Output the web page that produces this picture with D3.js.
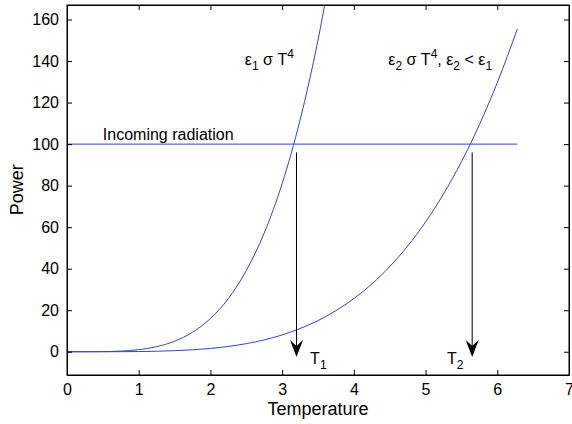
<!DOCTYPE html>
<html>
<head>
<meta charset="utf-8">
<script src="https://cdn.jsdelivr.net/npm/d3@7"></script>
<style>
  body { margin: 0; background: #fff; }
  text { font-family: "Liberation Sans", Arial, sans-serif; fill: #000; }
</style>
</head>
<body>
<div id="chart"></div>
<script>
var width = 572;
var height = 424;
var margin = {top: 5, right: 3, bottom: 49, left: 67};

// temperature samples and power
var temps1 = [0, 0.25, 0.5, 0.75, 1, 1.25, 1.5, 1.75, 2, 2.25, 2.5, 2.75, 3, 3.25, 3.5, 3.75];
var power1 = [0, 0.004, 0.06, 0.32, 1, 2.44, 5.06, 9.38, 16, 25.6, 39.1, 57.2, 81, 111.6, 150.1, 197.8];
var temps2 = [0, 0.25, 0.5, 0.75, 1, 1.25, 1.5, 1.75, 2, 2.25, 2.5, 2.75, 3, 3.25, 3.5, 3.75,
              4, 4.25, 4.5, 4.75, 5, 5.25, 5.5, 5.75, 6, 6.28];
var power2 = [0, 0.0004, 0.006, 0.03, 0.1, 0.24, 0.51, 0.94, 1.6, 2.56, 3.9, 5.72, 8.1, 11.2, 15.0, 19.8,
              25.6, 32.6, 41.0, 50.9, 62.5, 76.0, 91.5, 109.3, 129.6, 155.5];
var incomingT = [0, 6.28];
var incomingPower = 100;
var arrowT = [3.2, 5.65];
var arrowFrom = 96;
var arrowTo = -2.5;
var xTicks = [0, 1, 2, 3, 4, 5, 6, 7];
var yTicks = [0, 20, 40, 60, 80, 100, 120, 140, 160];

var svg = d3.select("#chart").append("svg")
    .attr("width", width)
    .attr("height", height);

var xScale = d3.scaleLinear()
    .domain([0, 7])
    .range([margin.left, width - margin.right]);
var yScale = d3.scaleLinear()
    .domain([-11.2, 167])
    .range([height - margin.bottom, margin.top]);

svg.append("clipPath").attr("id", "plot")
  .append("rect")
    .attr("x", margin.left).attr("y", margin.top)
    .attr("width", width - margin.left - margin.right)
    .attr("height", height - margin.top - margin.bottom);

var line = d3.line()
    .x(function (d) { return xScale(d[0]); })
    .y(function (d) { return yScale(d[1]); })
    .curve(d3.curveMonotoneX);

var curves = [d3.zip(temps1, power1), d3.zip(temps2, power2),
              incomingT.map(function (t) { return [t, incomingPower]; })];

svg.append("g").attr("clip-path", "url(#plot)")
  .selectAll("path")
  .data(curves).enter().append("path")
    .attr("d", line)
    .attr("fill", "none")
    .attr("stroke", "#3446bd")
    .attr("stroke-width", 1);

// axes, MATLAB style box with inward ticks
var xAxis = d3.axisBottom(xScale).tickValues(xTicks).tickFormat(d3.format("d"))
    .tickSizeInner(-5).tickSizeOuter(0).tickPadding(9);
var yAxis = d3.axisLeft(yScale).tickValues(yTicks).tickFormat(d3.format("d"))
    .tickSizeInner(-5).tickSizeOuter(0).tickPadding(8);
var xTop = d3.axisTop(xScale).tickValues(xTicks).tickSizeInner(-5).tickSizeOuter(0).tickFormat("");
var yRight = d3.axisRight(yScale).tickValues(yTicks).tickSizeInner(-5).tickSizeOuter(0).tickFormat("");

svg.append("g").attr("transform", "translate(0," + (height - margin.bottom) + ")").call(xAxis);
svg.append("g").attr("transform", "translate(" + margin.left + ",0)").call(yAxis);
svg.append("g").attr("transform", "translate(0," + margin.top + ")").call(xTop);
svg.append("g").attr("transform", "translate(" + (width - margin.right) + ",0)").call(yRight);

svg.selectAll(".domain").attr("stroke", "#000").attr("stroke-width", 1);
svg.selectAll(".tick line").attr("stroke", "#000");
svg.selectAll(".tick text").style("font-size", "16px").attr("fill", "#000");

svg.append("rect")
    .attr("x", margin.left).attr("y", margin.top)
    .attr("width", width - margin.left - margin.right)
    .attr("height", height - margin.top - margin.bottom)
    .attr("fill", "none").attr("stroke", "#000");

svg.append("text")
    .attr("x", xScale(3.5)).attr("y", 415)
    .attr("text-anchor", "middle")
    .style("font-size", "18px")
    .text("Temperature");
svg.append("text")
    .attr("transform", "translate(23," + yScale(78) + ") rotate(-90)")
    .attr("text-anchor", "middle")
    .style("font-size", "18px")
    .text("Power");

// arrows
var arrows = svg.append("g").selectAll("g")
    .data(arrowT).enter().append("g");
arrows.append("line")
    .attr("x1", function (d) { return xScale(d); })
    .attr("x2", function (d) { return xScale(d); })
    .attr("y1", yScale(arrowFrom))
    .attr("y2", yScale(arrowTo) - 8)
    .attr("stroke", "#000");
arrows.append("path")
    .attr("transform", function (d) { return "translate(" + xScale(d) + "," + yScale(arrowTo) + ")"; })
    .attr("d", "M0,0L-6.5,-17L0,-11L6.5,-17Z")
    .attr("fill", "#000");

// labels
function label(x, y, parts) {
    var t = svg.append("text").attr("x", xScale(x)).attr("y", yScale(y)).style("font-size", "16px");
    parts.forEach(function (p) {
        var s = t.append("tspan").text(p[0]);
        if (p[1] == "sub") s.attr("dy", 5).style("font-size", "12px");
        if (p[1] == "sup") s.attr("dy", -7).style("font-size", "12px");
        if (p[1] == "up") s.attr("dy", -5);
        if (p[1] == "down") s.attr("dy", 7);
    });
}
svg.append("text")
    .attr("x", xScale(0.5)).attr("y", yScale(102))
    .style("font-size", "16px")
    .text("Incoming radiation");
label(2.48, 138, [["ε"], ["1", "sub"], [" σ T", "up"], ["4", "sup"]]);
label(4.48, 138, [["ε"], ["2", "sub"], [" σ T", "up"], ["4", "sup"], [", ε", "down"], ["2", "sub"],
                  [" < ε", "up"], ["1", "sub"]]);
label(3.39, -5.9, [["T"], ["1", "sub"]]);
label(5.3, -5.9, [["T"], ["2", "sub"]]);
</script>
</body>
</html>
